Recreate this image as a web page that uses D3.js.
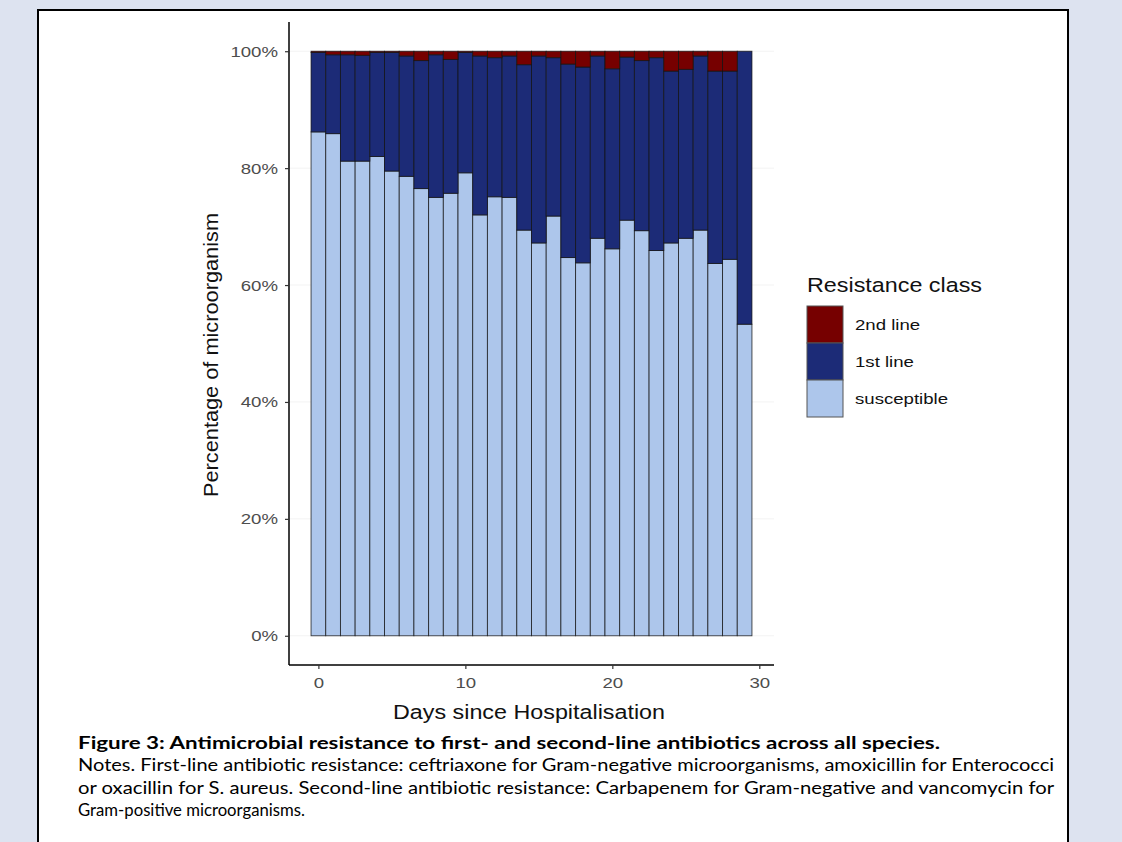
<!DOCTYPE html>
<html><head><meta charset="utf-8">
<script src="https://cdn.jsdelivr.net/npm/d3@7"></script>
<style>html,body{margin:0;padding:0;background:#dde3f0;}svg{display:block;}</style>
</head><body>
<svg id="c" width="1122" height="842"></svg>
<script>
const days = d3.range(0, 30);
const susceptible = [0.862,0.859,0.812,0.812,0.820,0.795,0.786,0.765,0.750,0.757,0.792,0.720,0.751,0.750,0.694,0.672,0.718,0.647,0.638,0.680,0.662,0.711,0.693,0.659,0.672,0.680,0.694,0.637,0.644,0.533];
const secondLine = [0.002,0.006,0.006,0.007,0.002,0.002,0.008,0.016,0.006,0.014,0.002,0.008,0.011,0.008,0.023,0.008,0.011,0.022,0.027,0.008,0.030,0.010,0.016,0.011,0.034,0.031,0.008,0.034,0.034,0.000];
const firstLine = susceptible.map((s,i)=> +(1 - s - secondLine[i]).toFixed(3));
const classes = ["susceptible","1st line","2nd line"];
const legendOrder = ["2nd line","1st line","susceptible"];
const colors = {"2nd line":"#760000","1st line":"#1c2b77","susceptible":"#adc6eb"};
const yTicks = [0,0.2,0.4,0.6,0.8,1.0];
const xTicks = [0,10,20,30];
const captionTitle = "Figure 3: Antimicrobial resistance to first- and second-line antibiotics across all species.";
const captionLines = [
 "Notes.  First-line antibiotic resistance: ceftriaxone for Gram-negative microorganisms, amoxicillin for Enterococci",
 "or oxacillin for S. aureus. Second-line antibiotic resistance:  Carbapenem for Gram-negative and vancomycin for",
 "Gram-positive microorganisms."
];

const svg = d3.select("#c");
const SANS = "Liberation Sans, Arial, sans-serif";
// stretch helper: widen text horizontally like the reference
function stretch(sel, k){
  sel.each(function(){ const w=this.getComputedTextLength(); d3.select(this).attr("textLength",w*k).attr("lengthAdjust","spacingAndGlyphs"); });
}
// frame
svg.append("rect").attr("x",38).attr("y",10).attr("width",1030).attr("height",850)
  .attr("fill","#fff").attr("stroke","#000").attr("stroke-width",2);

const x = d3.scaleLinear().domain([-2,31]).range([289,774]);
const y = d3.scaleLinear().domain([-0.05,1.05]).range([665,22]);

// faint grid
svg.append("g").selectAll("line").data(yTicks).join("line")
  .attr("x1",289).attr("x2",774).attr("y1",d=>y(d)).attr("y2",d=>y(d))
  .attr("stroke","#f3f3f3").attr("stroke-width",1);

const table = days.map((d,i)=>({day:d,"susceptible":susceptible[i],"1st line":firstLine[i],"2nd line":secondLine[i]}));
const stack = d3.stack().keys(classes)(table);
const bw = x(1)-x(0);
svg.append("g").selectAll("g").data(stack).join("g")
  .attr("fill",s=>colors[s.key])
  .selectAll("rect").data(s=>s).join("rect")
  .attr("x",d=>x(d.data.day-0.5)).attr("width",bw)
  .attr("y",d=>y(d[1])).attr("height",d=>Math.max(0,y(d[0])-y(d[1])))
  .attr("stroke","#111").attr("stroke-opacity",0.8).attr("stroke-width",0.9);

// axes
const yAxis = svg.append("g").attr("transform","translate(289,0)")
  .call(d3.axisLeft(y).tickValues(yTicks).tickFormat(d3.format(".0%")).tickSize(4).tickPadding(7));
const xAxis = svg.append("g").attr("transform","translate(0,665)")
  .call(d3.axisBottom(x).tickValues(xTicks).tickSize(4).tickPadding(8));
[yAxis,xAxis].forEach(a=>{
  a.select(".domain").attr("stroke","#000").attr("stroke-width",1.5);
  a.selectAll(".tick line").attr("stroke","#333").attr("stroke-width",1.2);
  a.selectAll(".tick text").attr("fill","#4d4d4d").attr("font-family",SANS).attr("font-size",15.5);
  stretch(a.selectAll(".tick text"),1.2);
});
yAxis.select(".domain").attr("d","M0,22V665");
xAxis.select(".domain").attr("d","M289,0H774");

const xt = svg.append("text").attr("x",529).attr("y",719).attr("text-anchor","middle")
  .attr("font-family",SANS).attr("font-size",20).attr("fill","#111")
  .text("Days since Hospitalisation");
xt.attr("textLength",272).attr("lengthAdjust","spacingAndGlyphs");
svg.append("text").attr("transform","translate(218,355) rotate(-90)").attr("text-anchor","middle")
  .attr("font-family",SANS).attr("font-size",20).attr("fill","#111")
  .attr("textLength",284).attr("lengthAdjust","spacingAndGlyphs")
  .text("Percentage of microorganism");

// legend
const lg = svg.append("g").attr("font-family",SANS);
lg.append("text").attr("x",807).attr("y",292).attr("font-size",20.5).attr("fill","#111")
  .attr("textLength",175).attr("lengthAdjust","spacingAndGlyphs").text("Resistance class");
legendOrder.forEach((k,i)=>{
  lg.append("rect").attr("x",807).attr("y",306+i*37).attr("width",36).attr("height",37)
    .attr("fill",colors[k]).attr("stroke","#555").attr("stroke-width",1);
  const t = lg.append("text").attr("x",855).attr("y",306+i*37+24).attr("font-size",15.5).attr("fill","#111").text(k);
  stretch(t,1.2);
});

// caption
const cap = svg.append("g").attr("font-family","Lato, 'Open Sans', sans-serif").attr("fill","#000");
cap.append("text").attr("x",78).attr("y",749).attr("font-size",16.5).attr("font-weight","bold")
  .attr("textLength",862).attr("lengthAdjust","spacingAndGlyphs").text(captionTitle);
captionLines.forEach((t,i)=>{
  const tx = cap.append("text").attr("x",78).attr("y",771+i*22.5).attr("font-size",16.5).text(t);
  if(i<2) tx.attr("textLength",976).attr("lengthAdjust","spacingAndGlyphs");
  else tx.attr("textLength",227).attr("lengthAdjust","spacingAndGlyphs");
});
</script>
</body></html>
